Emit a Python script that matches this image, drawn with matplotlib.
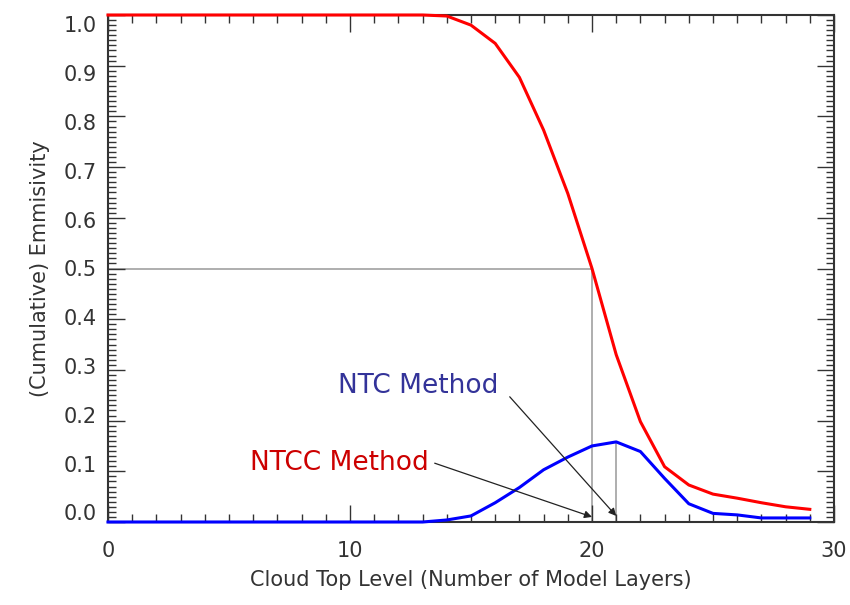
import numpy as np
import matplotlib
matplotlib.use("Agg")
import matplotlib.pyplot as plt
from matplotlib.ticker import MultipleLocator
from matplotlib.transforms import ScaledTranslation

levels = list(range(0, 30))
cumulative = [1.0]*14 + [0.998, 0.980, 0.944, 0.877, 0.773, 0.648, 0.500,
                         0.330, 0.198, 0.109, 0.073, 0.055, 0.047, 0.038, 0.030, 0.025]
emissivity = [0.0]*14 + [0.004, 0.012, 0.038, 0.068, 0.103, 0.128, 0.150,
                         0.158, 0.139, 0.086, 0.036, 0.017, 0.014, 0.008, 0.008, 0.008]
ntcc_level = 20
ntc_level = 21
half = 0.5

x_ticks = [0, 10, 20, 30]
y_ticks = [round(0.1*i, 1) for i in range(11)]

fig = plt.figure(figsize=(8.5, 6.05), dpi=100)
ax = fig.add_axes([108/850, 1-522/605, (834-108)/850, (522-15)/605])

gray = '#a8a8a8'
ax.plot([0, ntcc_level], [half, half], color=gray, lw=1.3, zorder=1)
ax.plot([ntcc_level, ntcc_level], [0, half], color=gray, lw=1.3, zorder=1)
ax.plot([ntc_level, ntc_level], [0, emissivity[ntc_level]], color=gray, lw=1.3, zorder=1)

ax.plot(levels, cumulative, color='#ff0000', lw=2.2, zorder=3, clip_on=False)
ax.plot(levels, emissivity, color='#0000ff', lw=2.2, zorder=3, clip_on=False)

ax.set_xlim(0, 30)
ax.set_ylim(0, 1)
ax.set_xticks(x_ticks)
ax.set_yticks(y_ticks)
ax.set_yticklabels([f"{v:.1f}" for v in y_ticks])
ax.xaxis.set_minor_locator(MultipleLocator(1))
ax.yaxis.set_minor_locator(MultipleLocator(0.01))
ax.tick_params(which='both', direction='in', top=True, right=True, color='#333333', width=1.0)
ax.tick_params(which='major', length=12, labelsize=15, labelcolor='#333333')
ax.tick_params(which='minor', length=6)
ax.tick_params(axis='x', which='major', pad=14)
ax.tick_params(axis='y', which='major', pad=8)
for v, lab in zip(y_ticks, ax.get_yticklabels()):
    dy = (0.5 - v) * 19 / 100.0
    lab.set_transform(lab.get_transform() + ScaledTranslation(0, dy, fig.dpi_scale_trans))
for s in ax.spines.values():
    s.set_color('#333333')
    s.set_linewidth(1.5)

ax.set_xlabel('Cloud Top Level (Number of Model Layers)', fontsize=15, color='#333333', labelpad=6)
ax.set_ylabel('(Cumulative) Emmisivity', fontsize=15, color='#333333', labelpad=10)

ax.text(12.8, 0.268, 'NTC Method', color='#333399', fontsize=19, ha='center', va='center')
ax.text(9.55, 0.116, 'NTCC Method', color='#cc0000', fontsize=19, ha='center', va='center')
arrow = dict(arrowstyle='-|>', color='#222222', lw=0.9, mutation_scale=11, shrinkA=0, shrinkB=0)
ax.annotate('', xy=(ntc_level, 0.012), xytext=(16.6, 0.247), arrowprops=arrow)
ax.annotate('', xy=(ntcc_level, 0.01), xytext=(13.5, 0.116), arrowprops=arrow)

fig.savefig('out.png', dpi=100)
